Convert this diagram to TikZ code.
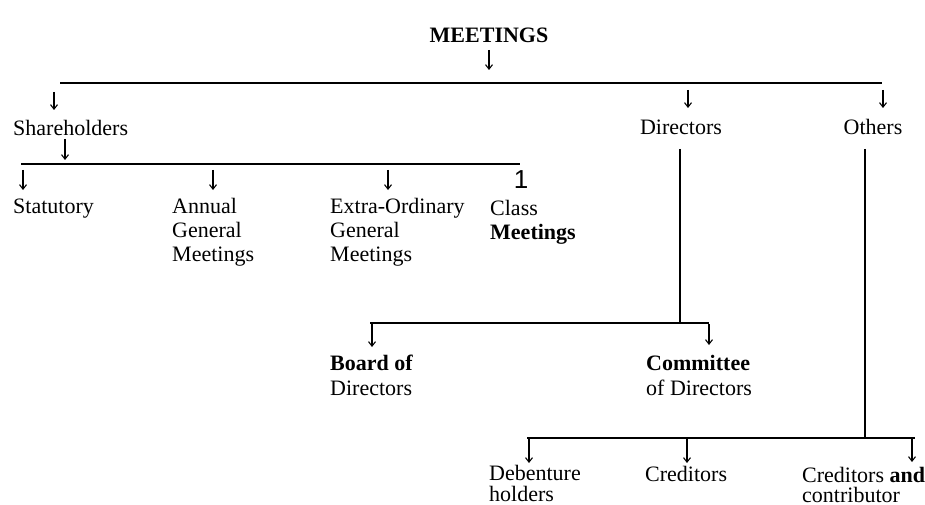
\documentclass[tikz,border=0pt]{standalone}
\usepackage{fontspec}
\setmainfont{Liberation Serif}
\newfontfamily\digitfont{Liberation Sans}
\usetikzlibrary{arrows.meta}
\begin{document}
\begin{tikzpicture}[x=1pt,y=-1pt,
  lbl/.style={anchor=base west,inner sep=0pt,align=left,font=\fontsize{22}{24}\selectfont},
  lblc/.style={lbl,anchor=base},
  bus/.style={line width=2.2pt},
  stem/.style={line width=1.8pt},
  arr/.style={line width=1.1pt,-{Straight Barb[length=4.5pt,width=7pt]}},
]
\useasboundingbox (0,0) rectangle (925,505);

% texts (multi-line nodes are placed by the baseline of their last line)
\node[lblc,font=\fontsize{22}{24}\selectfont\bfseries] (meet) at (489,43) {MEETINGS};
\node[lbl] (sh) at (13,136) {Shareholders};
\node[lblc] (dir) at (681,135) {Directors};
\node[lblc] (oth) at (873,135) {Others};
\node[lbl] (stat) at (13,213) {Statutory};
\node[lbl] (agm) at (172,261) {Annual\\General\\Meetings};
\node[lbl] (egm) at (330,261) {Extra-Ordinary\\General\\Meetings};
\node[lbl] (cls) at (490,239) {Class\\\textbf{Meetings}};
\node[lblc,font=\fontsize{26}{28}\digitfont] (one) at (521,189) {1};
\node[lbl,font=\fontsize{22}{25}\selectfont] (bod) at (330,395) {\textbf{Board of}\\Directors};
\node[lbl,font=\fontsize{22}{25}\selectfont] (cod) at (646,395) {\textbf{Committee}\\of Directors};
\node[lbl,font=\fontsize{22}{21}\selectfont] (deb) at (489,501) {Debenture\\holders};
\node[lbl] (cred) at (645,481) {Creditors};
\node[lbl,font=\fontsize{22}{20}\selectfont] (cc) at (802,502) {Creditors \textbf{and}\\contributor};

% coordinates
\coordinate (m1) at (489,50);   \coordinate (m2) at (489,70);
\coordinate (b1l) at (60,83);   \coordinate (b1r) at (882,83);
\coordinate (a1s) at (54,92);   \coordinate (a1e) at (54,110);
\coordinate (a2s) at (688,90);  \coordinate (a2e) at (688,108);
\coordinate (a3s) at (883,90);  \coordinate (a3e) at (883,108);
\coordinate (s1) at (65,139);   \coordinate (s2) at (65,160);
\coordinate (b2l) at (21,164);  \coordinate (b2r) at (520,164);
\coordinate (c1s) at (23,170);  \coordinate (c1e) at (23,190);
\coordinate (c2s) at (213,170); \coordinate (c2e) at (213,190);
\coordinate (c3s) at (388,170); \coordinate (c3e) at (388,190);
\coordinate (dv1) at (680,149); \coordinate (dv2) at (680,323);
\coordinate (ov1) at (865,149); \coordinate (ov2) at (865,438);
\coordinate (b3l) at (370,323); \coordinate (b3r) at (709,323);
\coordinate (d1s) at (372,324); \coordinate (d1e) at (372,347);
\coordinate (d2s) at (709,324); \coordinate (d2e) at (709,345);
\coordinate (b4l) at (527,438); \coordinate (b4r) at (915,438);
\coordinate (e1s) at (529,439); \coordinate (e1e) at (529,463);
\coordinate (e2s) at (687,439); \coordinate (e2e) at (687,463);
\coordinate (e3s) at (912,439); \coordinate (e3e) at (912,462);

% connectors
\draw[arr] (m1) -- (m2);
\draw[bus] (b1l) -- (b1r);
\draw[arr] (a1s) -- (a1e);
\draw[arr] (a2s) -- (a2e);
\draw[arr] (a3s) -- (a3e);
\draw[arr] (s1) -- (s2);
\draw[bus] (b2l) -- (b2r);
\draw[arr] (c1s) -- (c1e);
\draw[arr] (c2s) -- (c2e);
\draw[arr] (c3s) -- (c3e);
\draw[stem] (dv1) -- (dv2);
\draw[stem] (ov1) -- (ov2);
\draw[bus] (b3l) -- (b3r);
\draw[arr] (d1s) -- (d1e);
\draw[arr] (d2s) -- (d2e);
\draw[bus] (b4l) -- (b4r);
\draw[arr] (e1s) -- (e1e);
\draw[arr] (e2s) -- (e2e);
\draw[arr] (e3s) -- (e3e);
\end{tikzpicture}
\end{document}
